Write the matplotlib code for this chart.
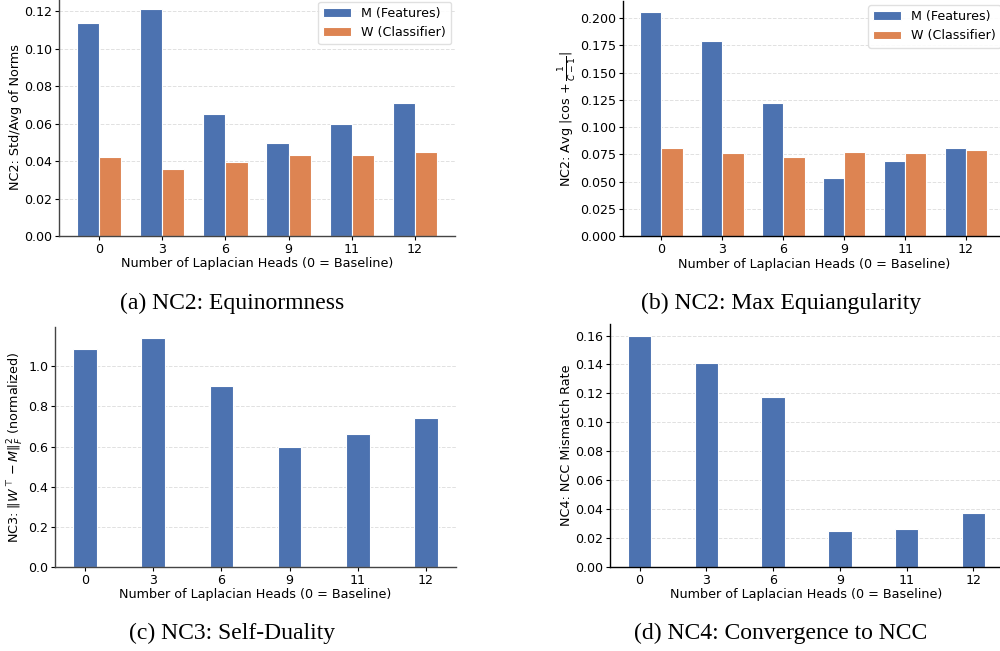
import matplotlib.pyplot as plt
import numpy as np

heads = ['0', '3', '6', '9', '11', '12']

equinorm_M = [0.1135, 0.121, 0.065, 0.0495, 0.060, 0.071]
equinorm_W = [0.042, 0.036, 0.0395, 0.0435, 0.043, 0.045]

equiang_M = [0.205, 0.179, 0.122, 0.053, 0.069, 0.081]
equiang_W = [0.081, 0.076, 0.073, 0.077, 0.076, 0.079]

self_duality = [1.085, 1.14, 0.90, 0.60, 0.665, 0.745]
ncc_mismatch = [0.16, 0.141, 0.1175, 0.0245, 0.026, 0.0375]

blue = '#4C72B0'
orange = '#DD8452'
fs = 9.2
tfs = 9.1

fig = plt.figure(figsize=(10, 6.51), dpi=100)

# axes positions in figure fractions (left, bottom, width, height)
pos = {
    'a': [0.059, 0.6375, 0.396, 0.3655],
    'b': [0.6227, 0.637, 0.382, 0.361],
    'c': [0.055, 0.129, 0.401, 0.369],
    'd': [0.610, 0.1295, 0.393, 0.3728],
}
x = np.arange(len(heads))
w = 0.35


def style(ax, ylabel, spine_col):
    ax.spines['top'].set_visible(False)
    ax.spines['right'].set_visible(False)
    for s in ['left', 'bottom']:
        ax.spines[s].set_color(spine_col)
        ax.spines[s].set_linewidth(1.0)
    ax.set_xticks(x)
    ax.set_xticklabels(heads)
    ax.tick_params(labelsize=tfs, length=3, width=0.8, pad=2, colors='black')
    ax.yaxis.grid(True, linestyle='--', color='#cccccc', alpha=0.6, linewidth=0.7)
    ax.set_axisbelow(True)
    ax.set_xlabel('Number of Laplacian Heads (0 = Baseline)', fontsize=fs, labelpad=1)
    ax.set_ylabel(ylabel, fontsize=fs, labelpad=1.5)


def legend(ax):
    ax.legend(fontsize=tfs, loc='upper right', framealpha=0.9, edgecolor='#dddddd',
              handlelength=2.2, borderaxespad=0.3)


# (a)
ax = fig.add_axes(pos['a'])
ax.bar(x - w / 2, equinorm_M, w, color=blue, edgecolor='white', linewidth=0.8, label='M (Features)')
ax.bar(x + w / 2, equinorm_W, w, color=orange, edgecolor='white', linewidth=0.8, label='W (Classifier)')
style(ax, 'NC2: Std/Avg of Norms', '#444444')
ax.set_yticks(np.arange(0, 0.121, 0.02))
legend(ax)

# (b)
ax = fig.add_axes(pos['b'])
ax.bar(x - w / 2, equiang_M, w, color=blue, edgecolor='white', linewidth=0.8, label='M (Features)')
ax.bar(x + w / 2, equiang_W, w, color=orange, edgecolor='white', linewidth=0.8, label='W (Classifier)')
style(ax, r'NC2: Avg $|\cos + \frac{1}{C-1}|$', 'black')
ax.set_yticks(np.arange(0, 0.201, 0.025))
legend(ax)

# (c)
ax = fig.add_axes(pos['c'])
ax.bar(x, self_duality, w, color=blue, edgecolor='white', linewidth=0.8)
style(ax, r'NC3: $\|W^\top - M\|_F^2$ (normalized)', '#444444')
ax.set_yticks(np.arange(0, 1.01, 0.2))

# (d)
ax = fig.add_axes(pos['d'])
ax.bar(x, ncc_mismatch, w, color=blue, edgecolor='white', linewidth=0.8)
style(ax, 'NC4: NCC Mismatch Rate', 'black')
ax.set_yticks(np.arange(0, 0.161, 0.02))

captions = [
    (0.232, 1 - 303 / 651, '(a) NC2: Equinormness'),
    (0.781, 1 - 303 / 651, '(b) NC2: Max Equiangularity'),
    (0.232, 1 - 633 / 651, '(c) NC3: Self-Duality'),
    (0.781, 1 - 633 / 651, '(d) NC4: Convergence to NCC'),
]
for cx, cy, txt in captions:
    fig.text(cx, cy, txt, ha='center', va='center', fontsize=17, family='Liberation Serif')

fig.savefig('out.png', dpi=100)
